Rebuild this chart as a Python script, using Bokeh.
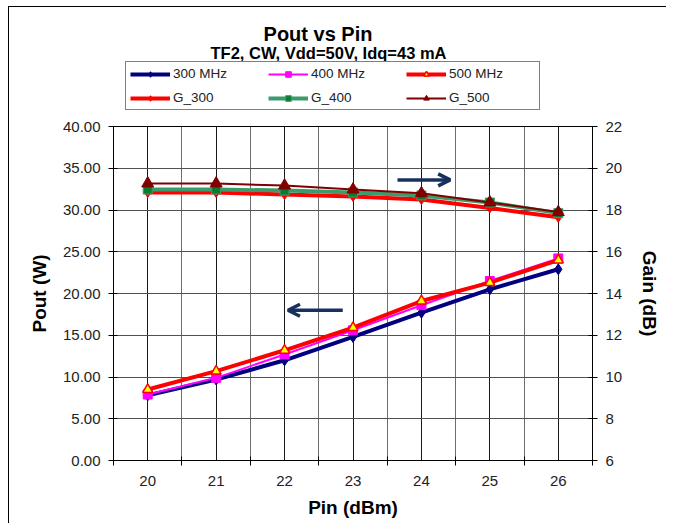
from bokeh.plotting import figure
from bokeh.layouts import column
from bokeh.models import (Range1d, LinearAxis, FixedTicker, NumeralTickFormatter,
                          Legend, LegendItem, Label, Arrow, OpenHead)
from bokeh.embed import file_html
from bokeh.resources import INLINE

# ---------------- data ----------------
pin = [20, 21, 22, 23, 24, 25, 26]
pout_300 = [7.8, 9.7, 12.0, 14.8, 17.7, 20.5, 22.9]
pout_400 = [7.9, 9.9, 12.7, 15.6, 18.6, 21.5, 24.2]
pout_500 = [8.5, 10.7, 13.2, 15.9, 19.1, 21.3, 24.0]
gain_300 = [18.84, 18.84, 18.74, 18.65, 18.50, 18.10, 17.65]
gain_400 = [18.98, 18.98, 18.93, 18.84, 18.70, 18.36, 17.85]
gain_500 = [19.27, 19.27, 19.17, 18.98, 18.80, 18.36, 17.90]

pout_ticks = [0, 5, 10, 15, 20, 25, 30, 35, 40]
gain_ticks = [6, 8, 10, 12, 14, 16, 18, 20, 22]
x_label_ticks = [20, 21, 22, 23, 24, 25, 26]
x_bound_ticks = [19.5, 20.5, 21.5, 22.5, 23.5, 24.5, 25.5, 26.5]

series_names = ["300 MHz", "400 MHz", "500 MHz", "G_300", "G_400", "G_500"]
title_text = "Pout vs Pin"
subtitle_text = "TF2, CW, Vdd=50V, Idq=43 mA"

# arrows (annotation positions)
arrow_right = dict(x_start=23.65, y_start=33.6, x_end=24.42, y_end=33.6)
arrow_left = dict(x_start=22.85, y_start=18.0, x_end=22.05, y_end=18.0)

FONT = "Liberation Sans"
W = 666
TOP_H = 116
H = 407
BL, BR, BT, BB = 113, 74, 10, 63

# series styles
styles = {
    "300 MHz": dict(color="#000080", lw=4, marker="diamond", size=11, fill="#000080", edge="#000080", ew=1),
    "400 MHz": dict(color="#FF00FF", lw=2, marker="square", size=9, fill="#FF00FF", edge="#FF00FF", ew=1),
    "500 MHz": dict(color="#FF0000", lw=4, marker="triangle", size=10, fill="#FFFF00", edge="#FF0000", ew=1.5),
    "G_300": dict(color="#FF0000", lw=4, marker="diamond", size=10, fill="#FF0000", edge="#FF0000", ew=1),
    "G_400": dict(color="#3A9C6A", lw=4, marker="square", size=9, fill="#0A7A30", edge="#3A9C6A", ew=1),
    "G_500": dict(color="#800000", lw=2, marker="triangle", size=12, fill="#800000", edge="#800000", ew=1),
}

# ---------------- header figure (titles + legend) ----------------
# its frame is aligned with the main plot's frame (113..592 px), so x data = page px
top = figure(width=W, height=TOP_H, output_backend="svg", toolbar_location=None,
             x_range=Range1d(BL, W - BR), y_range=Range1d(0, TOP_H),
             x_axis_type=None, y_axis_type=None, title=None,
             min_border=0, min_border_left=BL, min_border_right=BR,
             min_border_top=0, min_border_bottom=0,
             background_fill_color=None, border_fill_color=None)
top.outline_line_color = None
top.grid.visible = False

top.add_layout(Label(x=317.5, y=83, text=title_text, text_font=FONT,
                     text_font_size="20px", text_font_style="bold",
                     text_align="center", text_baseline="middle", text_color="#000000"))
top.add_layout(Label(x=328, y=64, text=subtitle_text, text_font=FONT,
                     text_font_size="16.5px", text_font_style="bold",
                     text_align="center", text_baseline="middle", text_color="#000000"))

items = []
for name in series_names:
    s = styles[name]
    # off-screen proxies, used only for the legend glyphs
    rl = top.line([-1000, -999], [-1000, -999], line_color=s["color"], line_width=s["lw"])
    rm = top.scatter([-1000], [-1000], marker=s["marker"], size=s["size"], fill_color=s["fill"],
                     line_color=s["edge"], line_width=s["ew"])
    items.append(LegendItem(label=name, renderers=[rl, rm]))

legend = Legend(items=items, orientation="horizontal", ncols=3, location=(12, 6))
legend.padding = 4
legend.spacing = 9
legend.margin = 0
legend.glyph_width = 40
legend.glyph_height = 14
legend.label_height = 14
legend.label_width = 86
legend.label_standoff = 3
legend.label_text_font = FONT
legend.label_text_font_size = "13.5px"
legend.label_text_color = "#222222"
legend.border_line_color = "#000000"
legend.border_line_width = 1
legend.background_fill_color = "white"
legend.background_fill_alpha = 1
top.add_layout(legend, "center")

# ---------------- main figure ----------------
p = figure(width=W, height=H, output_backend="svg", toolbar_location=None,
           title=None,
           x_range=Range1d(19.5, 26.5), y_range=Range1d(0, 40),
           min_border_left=BL, min_border_right=BR, min_border_top=BT,
           min_border_bottom=BB, background_fill_color="white",
           border_fill_color=None)
p.outline_line_color = "#000000"
p.outline_line_width = 1
p.extra_y_ranges = {"gain": Range1d(6, 22)}

# x axis
p.xaxis.ticker = FixedTicker(ticks=x_label_ticks, minor_ticks=x_bound_ticks)
p.xaxis.major_tick_in = 0
p.xaxis.major_tick_out = 0
p.xaxis.minor_tick_in = 4
p.xaxis.minor_tick_out = 5
p.xaxis.minor_tick_line_color = "#000000"
p.xaxis.axis_label = "Pin (dBm)"
p.xaxis.axis_label_standoff = 8
p.xaxis.major_label_standoff = 10

# left axis
p.yaxis.ticker = FixedTicker(ticks=pout_ticks)
p.yaxis.formatter = NumeralTickFormatter(format="0.00")
p.yaxis.axis_label = "Pout (W)"
p.yaxis.axis_label_standoff = 10
p.yaxis.major_tick_in = 4
p.yaxis.major_tick_out = 5
p.yaxis.minor_tick_line_color = None
p.yaxis.major_label_standoff = 8

# right axis
gax = LinearAxis(y_range_name="gain", ticker=FixedTicker(ticks=gain_ticks),
                 axis_label="Gain (dB)")
gax.major_tick_in = 4
gax.major_tick_out = 5
gax.minor_tick_line_color = None
gax.axis_label_standoff = 14
gax.major_label_standoff = 8
p.add_layout(gax, "right")

for ax in [p.xaxis[0], p.yaxis[0], gax]:
    ax.axis_line_color = "#000000"
    ax.major_tick_line_color = "#000000"
    ax.major_label_text_font = FONT
    ax.major_label_text_font_size = "15px"
    ax.major_label_text_color = "#222222"
    ax.axis_label_text_font = FONT
    ax.axis_label_text_font_size = "19px"
    ax.axis_label_text_font_style = "bold"
    ax.axis_label_text_color = "#000000"

# grids
p.xgrid.ticker = FixedTicker(ticks=x_label_ticks, minor_ticks=x_bound_ticks)
p.xgrid.grid_line_color = "#1a1a1a"
p.xgrid.minor_grid_line_color = "#6e6e6e"
p.xgrid.grid_line_width = 1
p.ygrid.ticker = FixedTicker(ticks=pout_ticks)
p.ygrid.grid_line_color = "#505050"
p.ygrid.grid_line_width = 1

series = [("300 MHz", pout_300, "default"), ("400 MHz", pout_400, "default"),
          ("500 MHz", pout_500, "default"), ("G_300", gain_300, "gain"),
          ("G_400", gain_400, "gain"), ("G_500", gain_500, "gain")]
for name, ys, rng in series:
    s = styles[name]
    p.line(pin, ys, y_range_name=rng, line_color=s["color"], line_width=s["lw"])
    p.scatter(pin, ys, y_range_name=rng, marker=s["marker"], size=s["size"],
              fill_color=s["fill"], line_color=s["edge"], line_width=s["ew"])

# arrows
for a in (arrow_right, arrow_left):
    p.add_layout(Arrow(end=OpenHead(size=12, line_color="#17305E", line_width=3.5),
                       line_color="#17305E", line_width=3.5, **a))

layout = column(top, p, spacing=0)
layout.styles = {"box-shadow": "inset 8px 6px 0 0 #ffffff, inset 9px 7px 0 0 #000000",
                 "background-color": "#ffffff"}

open("out.html", "w").write(file_html(layout, INLINE))
